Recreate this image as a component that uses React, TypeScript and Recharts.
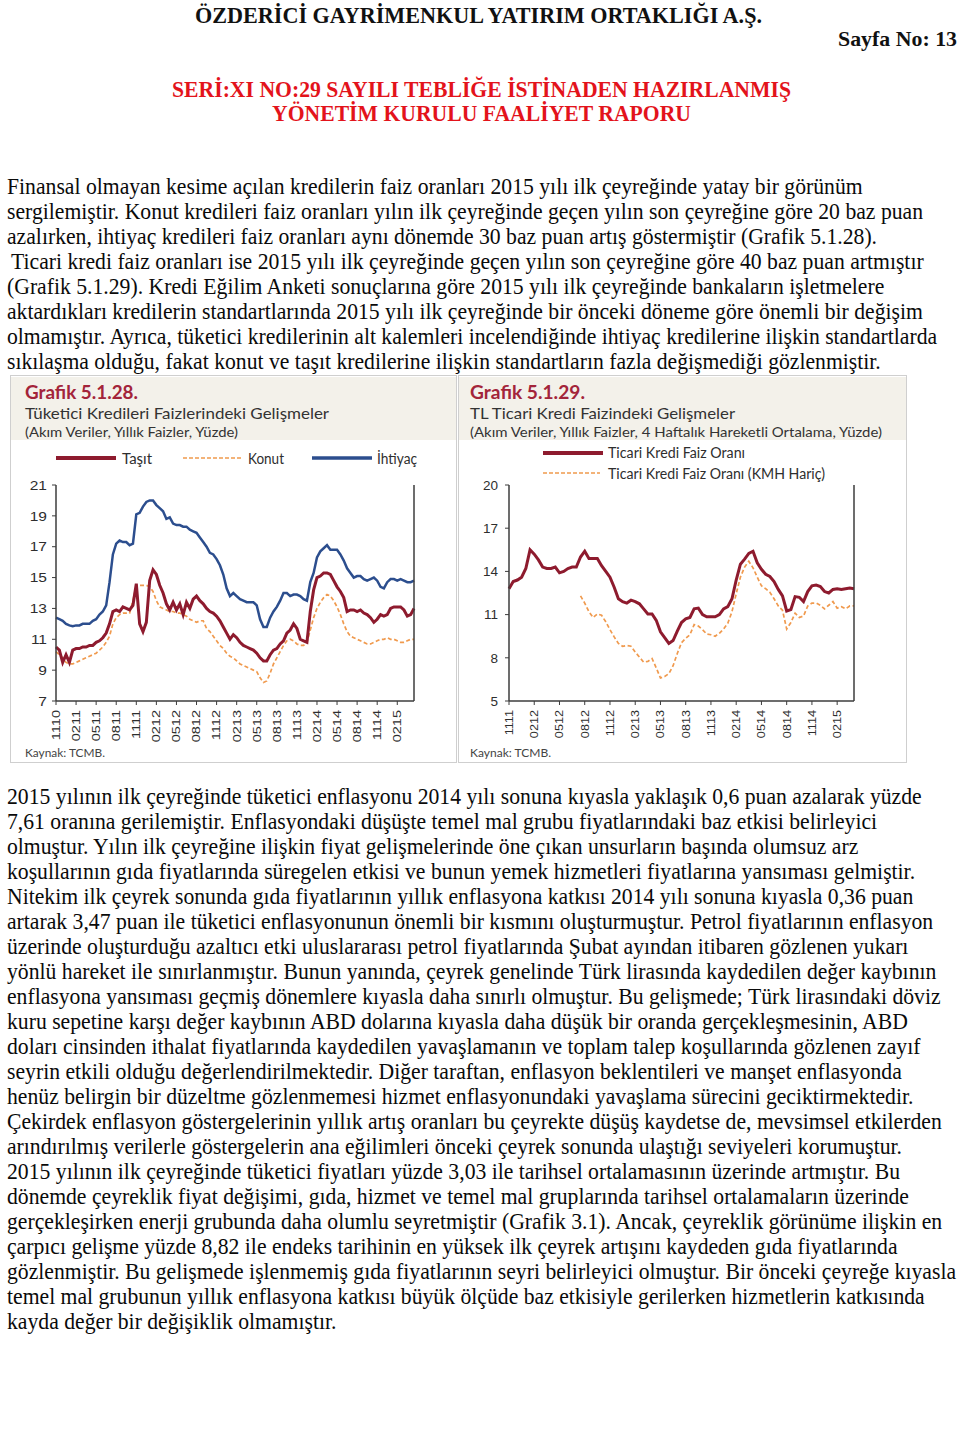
import React, { useLayoutEffect, useRef, useState } from 'react';
import { LineChart, Line, XAxis, YAxis } from 'recharts';

const SERIF = '"Liberation Serif", "Times New Roman", serif';
const SANS = '"Liberation Sans", Arial, sans-serif';
const GOTHIC = 'Lato, "Open Sans", sans-serif';

const RED = '#8e1b2e';
const ORANGE = '#f09a4e';
const BLUE = '#2c4e8e';
const AXIS = '#3c3c3c';
const BEIGE = '#f3f1ea';

// Grafik 5.1.28 - semi-monthly readings, Nov 2010 .. Apr 2015
const tuketiciTicks = ['1110', '0211', '0511', '0811', '1111', '0212', '0512', '0812', '1112', '0213', '0513', '0813', '1113', '0214', '0514', '0814', '1114', '0215'];
const tuketiciY = [7, 9, 11, 13, 15, 17, 19, 21];

const tasit = [
  10.5, 10.3, 9.5, 10.0, 9.5, 10.3, 10.4, 10.4, 10.5, 10.5,
  10.6, 10.6, 10.8, 10.9, 11.1, 11.4, 12.0, 12.8, 12.9, 12.8,
  13.1, 13.0, 12.9, 13.2, 14.6, 12.0, 11.5, 12.1, 14.8, 15.5,
  15.2, 14.5, 14.0, 13.3, 12.9, 13.4, 12.9, 13.3, 12.6, 13.4,
  13.0, 13.6, 13.8, 13.5, 13.3, 13.0, 12.8, 12.7, 12.5, 12.2,
  11.8, 11.4, 11.0, 11.3, 11.1, 10.8, 10.6, 10.5, 10.4, 10.3,
  10.1, 9.8, 9.6, 9.6, 10.0, 10.3, 10.4, 10.7, 10.9, 11.4,
  11.6, 12.0, 11.7, 11.0, 10.9, 10.8, 12.8, 14.2, 15.0, 15.1,
  15.3, 15.3, 15.2, 14.8, 14.4, 14.1, 13.7, 12.8, 12.9, 12.9,
  12.8, 12.9, 12.7, 12.6, 12.4, 12.1, 12.3, 12.6, 12.5, 12.6,
  13.0, 13.1, 13.1, 13.1, 12.9, 12.5, 12.6, 13.0,
];

const konut = [
  10.2, 10.0, 9.8, 9.5, 9.4, 9.4, 9.5, 9.6, 9.7, 9.8,
  9.9, 10.0, 10.1, 10.3, 10.5, 10.8, 11.2, 12.0, 12.4, 12.6,
  12.7, 12.7, 12.7, 13.5, 14.5, 14.5, 14.5, 14.5, 14.4, 14.1,
  13.5, 13.1, 13.0, 12.9, 12.8, 12.8, 12.7, 12.7, 12.6, 12.5,
  12.3, 12.2, 12.1, 12.2, 12.2, 11.7, 11.5, 11.2, 10.9, 10.6,
  10.4, 10.1, 9.9, 9.8, 9.6, 9.4, 9.3, 9.2, 9.1, 9.0,
  8.9, 8.5, 8.2, 8.3, 8.8, 9.4, 9.8, 10.2, 10.6, 10.9,
  11.0, 10.9, 10.7, 10.6, 10.6, 10.8, 11.6, 12.4, 13.0, 13.4,
  13.7, 13.9, 13.8, 13.5, 13.1, 12.6, 12.0, 11.5, 11.2, 11.1,
  11.0, 10.9, 10.8, 10.7, 10.7, 10.8, 10.9, 11.0, 11.0, 11.1,
  11.0, 11.0, 10.9, 10.8, 10.8, 10.9, 11.0, 11.0,
];

const ihtiyac = [
  12.4, 12.3, 12.2, 12.0, 11.9, 11.85, 11.9, 11.9, 12.0, 12.0,
  12.0, 12.2, 12.3, 12.6, 12.8, 13.2, 14.7, 16.5, 17.2, 17.4,
  17.3, 17.3, 17.1, 17.2, 19.1, 19.2, 19.6, 19.9, 20.0, 20.0,
  19.7, 19.5, 19.3, 18.8, 18.9, 18.5, 18.4, 18.4, 18.3, 18.3,
  18.1, 18.0, 17.9, 17.6, 17.3, 17.0, 16.6, 16.5, 16.2, 15.8,
  15.2, 14.3, 13.8, 14.0, 13.8, 13.6, 13.5, 13.4, 13.4, 13.4,
  13.2, 12.3, 11.8, 11.8, 12.4, 12.8, 13.1, 13.5, 14.0, 14.0,
  13.8, 13.9, 13.9, 13.8, 13.6, 13.5, 14.7, 15.3, 16.3, 16.7,
  16.9, 17.1, 16.8, 16.8, 16.8, 16.5, 16.1, 15.6, 15.3, 15.0,
  15.1, 15.1, 14.9, 14.8, 14.9, 15.0, 14.8, 14.4, 14.3, 14.7,
  14.9, 14.9, 14.8, 14.9, 14.8, 14.7, 14.7, 14.8,
];

// Grafik 5.1.29 - semi-monthly readings, Nov 2011 .. Apr 2015
const ticariTicks = ['1111', '0212', '0512', '0812', '1112', '0213', '0513', '0813', '1113', '0214', '0514', '0814', '1114', '0215'];
const ticariY = [5, 8, 11, 14, 17, 20];

const ticari = [
  12.8, 13.3, 13.4, 13.6, 14.2, 15.5, 15.2, 14.8, 14.3, 14.2,
  14.2, 14.3, 13.9, 14.0, 14.2, 14.3, 14.3, 15.0, 15.4, 14.9,
  14.9, 14.9, 14.4, 14.0, 13.6, 12.9, 12.1, 11.9, 11.8, 12.0,
  11.9, 11.75, 11.4, 11.05, 11.05, 10.6, 9.8, 9.4, 9.0, 9.2,
  9.85, 10.45, 10.7, 10.8, 11.4, 11.45, 11.0, 10.85, 10.85, 10.85,
  11.0, 11.4, 11.55, 12.1, 13.4, 14.5, 14.85, 15.25, 15.4, 14.6,
  14.15, 13.8, 13.65, 13.3, 12.75, 12.3, 11.25, 11.35, 12.25, 12.2,
  11.9, 12.6, 13.0, 13.05, 12.95, 12.6, 12.5, 12.75, 12.8, 12.75,
  12.8, 12.85, 12.8,
];

const ticariKmhHaric = [
  null, null, null, null, null, null, null, null, null, null,
  null, null, null, null, null, null, null,
  12.3, 11.8, 11.2, 10.8, 11.05, 10.95, 10.5, 9.95, 9.45, 9.0,
  8.8, 8.85, 8.8, 8.4, 8.05, 7.7, 7.75, 7.95, 7.3, 6.6,
  6.7, 6.9, 7.45, 8.3, 9.05, 9.35, 9.6, 10.3, 10.2, 9.95,
  9.65, 9.6, 9.5, 9.7, 10.0, 10.4, 11.2, 12.45, 13.6, 14.3,
  14.7, 14.25, 13.6, 13.0, 12.8, 12.55, 12.1, 11.6, 11.3, 10.0,
  10.45, 11.1, 10.8, 10.9, 11.6, 11.8, 11.8, 11.65, 11.4, 11.65,
  11.9, 11.45, 11.55, 11.4, 11.6, 11.6,
];

const paragraph1 = [
  'Finansal olmayan kesime açılan kredilerin faiz oranları 2015 yılı ilk çeyreğinde yatay bir görünüm',
  'sergilemiştir. Konut kredileri faiz oranları yılın ilk çeyreğinde geçen yılın son çeyreğine göre 20 baz puan',
  'azalırken, ihtiyaç kredileri faiz oranları aynı dönemde 30 baz puan artış göstermiştir (Grafik 5.1.28).',
  'Ticari kredi faiz oranları ise 2015 yılı ilk çeyreğinde geçen yılın son çeyreğine göre 40 baz puan artmıştır',
  '(Grafik 5.1.29). Kredi Eğilim Anketi sonuçlarına göre 2015 yılı ilk çeyreğinde bankaların işletmelere',
  'aktardıkları kredilerin standartlarında 2015 yılı ilk çeyreğinde bir önceki döneme göre önemli bir değişim',
  'olmamıştır. Ayrıca, tüketici kredilerinin alt kalemleri incelendiğinde ihtiyaç kredilerine ilişkin standartlarda',
  'sıkılaşma olduğu, fakat konut ve taşıt kredilerine ilişkin standartların fazla değişmediği gözlenmiştir.',
];

const paragraph2 = [
  '2015 yılının ilk çeyreğinde tüketici enflasyonu 2014 yılı sonuna kıyasla yaklaşık 0,6 puan azalarak yüzde',
  '7,61 oranına gerilemiştir. Enflasyondaki düşüşte temel mal grubu fiyatlarındaki baz etkisi belirleyici',
  'olmuştur. Yılın ilk çeyreğine ilişkin fiyat gelişmelerinde öne çıkan unsurların başında olumsuz arz',
  'koşullarının gıda fiyatlarında süregelen etkisi ve bunun yemek hizmetleri fiyatlarına yansıması gelmiştir.',
  'Nitekim ilk çeyrek sonunda gıda fiyatlarının yıllık enflasyona katkısı 2014 yılı sonuna kıyasla 0,36 puan',
  'artarak 3,47 puan ile tüketici enflasyonunun önemli bir kısmını oluşturmuştur. Petrol fiyatlarının enflasyon',
  'üzerinde oluşturduğu azaltıcı etki uluslararası petrol fiyatlarında Şubat ayından itibaren gözlenen yukarı',
  'yönlü hareket ile sınırlanmıştır. Bunun yanında, çeyrek genelinde Türk lirasında kaydedilen değer kaybının',
  'enflasyona yansıması geçmiş dönemlere kıyasla daha sınırlı olmuştur. Bu gelişmede; Türk lirasındaki döviz',
  'kuru sepetine karşı değer kaybının ABD dolarına kıyasla daha düşük bir oranda gerçekleşmesinin, ABD',
  'doları cinsinden ithalat fiyatlarında kaydedilen yavaşlamanın ve toplam talep koşullarında gözlenen zayıf',
  'seyrin etkili olduğu değerlendirilmektedir. Diğer taraftan, enflasyon beklentileri ve manşet enflasyonda',
  'henüz belirgin bir düzeltme gözlenmemesi hizmet enflasyonundaki yavaşlama sürecini geciktirmektedir.',
  'Çekirdek enflasyon göstergelerinin yıllık artış oranları bu çeyrekte düşüş kaydetse de, mevsimsel etkilerden',
  'arındırılmış verilerle göstergelerin ana eğilimleri önceki çeyrek sonunda ulaştığı seviyeleri korumuştur.',
  '2015 yılının ilk çeyreğinde tüketici fiyatları yüzde 3,03 ile tarihsel ortalamasının üzerinde artmıştır. Bu',
  'dönemde çeyreklik fiyat değişimi, gıda, hizmet ve temel mal gruplarında tarihsel ortalamaların üzerinde',
  'gerçekleşirken enerji grubunda daha olumlu seyretmiştir (Grafik 3.1). Ancak, çeyreklik görünüme ilişkin en',
  'çarpıcı gelişme yüzde 8,82 ile endeks tarihinin en yüksek ilk çeyrek artışını kaydeden gıda fiyatlarında',
  'gözlenmiştir. Bu gelişmede işlenmemiş gıda fiyatlarının seyri belirleyici olmuştur. Bir önceki çeyreğe kıyasla',
  'temel mal grubunun yıllık enflasyona katkısı büyük ölçüde baz etkisiyle gerilerken hizmetlerin katkısında',
  'kayda değer bir değişiklik olmamıştır.',
];

function SideTick(props: any) {
  const { x, y, payload, textAnchor, sx } = props;
  return (
    <text
      transform={`translate(${x},${y}) scale(${sx},1)`}
      textAnchor={textAnchor}
      dy="0.35em"
      fontSize={13.5}
      fontFamily={SANS}
      fill="#2e2e2e"
    >
      {payload.value}
    </text>
  );
}

function DateTick(props: any) {
  const { x, y, payload, labels, stretch } = props;
  return (
    <text
      transform={`translate(${x},${y}) rotate(-90) scale(${stretch},1)`}
      textAnchor="end"
      dy="0.35em"
      fontSize={11}
      fontFamily={SANS}
      fill="#2e2e2e"
    >
      {labels[Math.round(payload.value / 6)]}
    </text>
  );
}

function TuketiciChart() {
  const data = tasit.map((v, i) => ({ i, tasit: v, konut: konut[i], ihtiyac: ihtiyac[i] }));
  const ticks = tuketiciTicks.map((_, n) => n * 6);
  const axisLine = { stroke: AXIS, strokeWidth: 1.5 };
  return (
    <LineChart width={447} height={325} data={data} margin={{ top: 45, right: 10, bottom: 14, left: 0 }}>
      <XAxis
        type="number"
        dataKey="i"
        domain={[0, tasit.length - 1]}
        ticks={ticks}
        interval={0}
        height={50}
        tickSize={4}
        tickMargin={5}
        axisLine={axisLine}
        tickLine={{ stroke: AXIS }}
        tick={<DateTick labels={tuketiciTicks} stretch={1.32} />}
      />
      <YAxis
        yAxisId="l"
        domain={[7, 21]}
        ticks={tuketiciY}
        interval={0}
        width={46}
        tickSize={4}
        tickMargin={5}
        axisLine={axisLine}
        tickLine={{ stroke: AXIS }}
        tick={<SideTick sx={1.15} />}
      />
      <YAxis
        yAxisId="r"
        orientation="right"
        domain={[7, 21]}
        ticks={tuketiciY}
        interval={0}
        width={33}
        tickSize={4}
        tickMargin={5}
        axisLine={axisLine}
        tickLine={{ stroke: AXIS }}
        tick={<SideTick sx={1.15} />}
      />
      <Line yAxisId="l" type="linear" dataKey="konut" stroke={ORANGE} strokeWidth={1.7} strokeDasharray="4 2.5" dot={false} isAnimationActive={false} />
      <Line yAxisId="l" type="linear" dataKey="tasit" stroke={RED} strokeWidth={3} dot={false} isAnimationActive={false} />
      <Line yAxisId="l" type="linear" dataKey="ihtiyac" stroke={BLUE} strokeWidth={2.5} dot={false} isAnimationActive={false} />
    </LineChart>
  );
}

function TicariChart() {
  const data = ticari.map((v, i) => ({ i, ticari: v, kmh: ticariKmhHaric[i] }));
  const ticks = ticariTicks.map((_, n) => n * 6);
  const axisLine = { stroke: AXIS, strokeWidth: 1.5 };
  return (
    <LineChart width={449} height={325} data={data} margin={{ top: 45, right: 10, bottom: 14, left: 0 }}>
      <XAxis
        type="number"
        dataKey="i"
        domain={[0, ticari.length - 1]}
        ticks={ticks}
        interval={0}
        height={50}
        tickSize={4}
        tickMargin={5}
        axisLine={axisLine}
        tickLine={{ stroke: AXIS }}
        tick={<DateTick labels={ticariTicks} stretch={1.15} />}
      />
      <YAxis
        yAxisId="l"
        domain={[5, 20]}
        ticks={ticariY}
        interval={0}
        width={51}
        tickSize={4}
        tickMargin={7}
        axisLine={axisLine}
        tickLine={{ stroke: AXIS }}
        tick={<SideTick sx={1.0} />}
      />
      <YAxis
        yAxisId="r"
        orientation="right"
        domain={[5, 20]}
        ticks={ticariY}
        interval={0}
        width={43}
        tickSize={4}
        tickMargin={8}
        axisLine={axisLine}
        tickLine={{ stroke: AXIS }}
        tick={<SideTick sx={1.0} />}
      />
      <Line yAxisId="l" type="linear" dataKey="kmh" stroke={ORANGE} strokeWidth={1.7} strokeDasharray="4 2.5" dot={false} isAnimationActive={false} />
      <Line yAxisId="l" type="linear" dataKey="ticari" stroke={RED} strokeWidth={3} dot={false} isAnimationActive={false} />
    </LineChart>
  );
}

// text squeezed/stretched to the width it has in the scan
function FitText({ x, y, w, size, weight, fill, family, children }: any) {
  return (
    <text x={x} y={y} textLength={w} lengthAdjust="spacingAndGlyphs" fontSize={size} fontWeight={weight} fill={fill} fontFamily={family}>
      {children}
    </text>
  );
}

export default function App() {
  const refLine = useRef<SVGTextElement>(null);
  const [k, setK] = useState(0.8);

  // body text of the scan is horizontally condensed; derive the factor from one line
  useLayoutEffect(() => {
    const el = refLine.current;
    if (el) {
      const len = el.getComputedTextLength();
      if (len > 0) setK(916 / len);
    }
  }, []);

  const bodyLine = (t: string, x: number, y: number, ref?: any) => (
    <text key={y} ref={ref} transform={`translate(${x},${y}) scale(${k},1)`} fontSize={23} fontFamily={SERIF} fill="#0a0a0a" style={{ whiteSpace: 'pre' }}>
      {t}
    </text>
  );

  return (
    <div style={{ position: 'absolute', left: 0, top: 0, width: 960, height: 1440, background: '#fff' }}>
      <svg width={960} height={1440} style={{ position: 'absolute', left: 0, top: 0 }}>
        <FitText x={195} y={23} w={567} size={23} weight="bold" fill="#111" family={SERIF}>ÖZDERİCİ GAYRİMENKUL YATIRIM ORTAKLIĞI A.Ş.</FitText>
        <FitText x={838} y={46} w={119} size={22} weight="bold" fill="#111" family={SERIF}>Sayfa No: 13</FitText>
        <FitText x={172} y={97} w={619} size={23} weight="bold" fill="#e3131b" family={SERIF}>SERİ:XI NO:29 SAYILI TEBLİĞE İSTİNADEN HAZIRLANMIŞ</FitText>
        <FitText x={272} y={121} w={419} size={23} weight="bold" fill="#e3131b" family={SERIF}>YÖNETİM KURULU FAALİYET RAPORU</FitText>

        {paragraph1.map((t, n) => bodyLine(t, n === 3 ? 11 : 7, 194 + n * 25, n === 1 ? refLine : undefined))}
        {paragraph2.map((t, n) => bodyLine(t, 7, 804 + n * 25))}

        {/* frames of the two pasted figures */}
        <rect x={10.5} y={375.5} width={446} height={387} fill="#fff" stroke="#cfcfcf" />
        <rect x={458.5} y={375.5} width={448} height={387} fill="#fff" stroke="#cfcfcf" />
        <rect x={11} y={377} width={445} height={63} fill={BEIGE} />
        <rect x={459} y={377} width={447} height={63} fill={BEIGE} />

        <FitText x={25} y={399} w={113} size={18} weight="bold" fill="#a3243a" family={GOTHIC}>Grafik 5.1.28.</FitText>
        <FitText x={25} y={419} w={304} size={16} fill="#333" family={GOTHIC}>Tüketici Kredileri Faizlerindeki Gelişmeler</FitText>
        <FitText x={25} y={437} w={213} size={13.5} fill="#333" family={GOTHIC}>(Akım Veriler, Yıllık Faizler, Yüzde)</FitText>

        <line x1={56} y1={458} x2={116} y2={458} stroke={RED} strokeWidth={4} />
        <FitText x={122} y={463.5} w={30} size={15.5} fill="#2e2e2e" family={GOTHIC}>Taşıt</FitText>
        <line x1={183} y1={458} x2={241} y2={458} stroke={ORANGE} strokeWidth={1.7} strokeDasharray="4 2" />
        <FitText x={248} y={463.5} w={36} size={15.5} fill="#2e2e2e" family={GOTHIC}>Konut</FitText>
        <line x1={312} y1={458} x2={372} y2={458} stroke={BLUE} strokeWidth={3.5} />
        <FitText x={377} y={463.5} w={40} size={15.5} fill="#2e2e2e" family={GOTHIC}>İhtiyaç</FitText>
        <FitText x={25} y={757} w={80} size={12} fill="#444" family={GOTHIC}>Kaynak: TCMB.</FitText>

        <FitText x={470} y={399} w={115} size={18} weight="bold" fill="#a3243a" family={GOTHIC}>Grafik 5.1.29.</FitText>
        <FitText x={470} y={419} w={265} size={16} fill="#333" family={GOTHIC}>TL Ticari Kredi Faizindeki Gelişmeler</FitText>
        <FitText x={470} y={437} w={412} size={13.5} fill="#333" family={GOTHIC}>(Akım Veriler, Yıllık Faizler, 4 Haftalık Hareketli Ortalama, Yüzde)</FitText>

        <line x1={543} y1={453} x2={603} y2={453} stroke={RED} strokeWidth={4} />
        <FitText x={608} y={458} w={137} size={15.5} fill="#2e2e2e" family={GOTHIC}>Ticari Kredi Faiz Oranı</FitText>
        <line x1={543} y1={473} x2={600} y2={473} stroke={ORANGE} strokeWidth={1.7} strokeDasharray="4 2" />
        <FitText x={608} y={479} w={217} size={15.5} fill="#2e2e2e" family={GOTHIC}>Ticari Kredi Faiz Oranı (KMH Hariç)</FitText>
        <FitText x={470} y={757} w={81} size={12} fill="#444" family={GOTHIC}>Kaynak: TCMB.</FitText>
      </svg>

      <div style={{ position: 'absolute', left: 10, top: 440 }}>
        <TuketiciChart />
      </div>
      <div style={{ position: 'absolute', left: 458, top: 440 }}>
        <TicariChart />
      </div>
    </div>
  );
}
